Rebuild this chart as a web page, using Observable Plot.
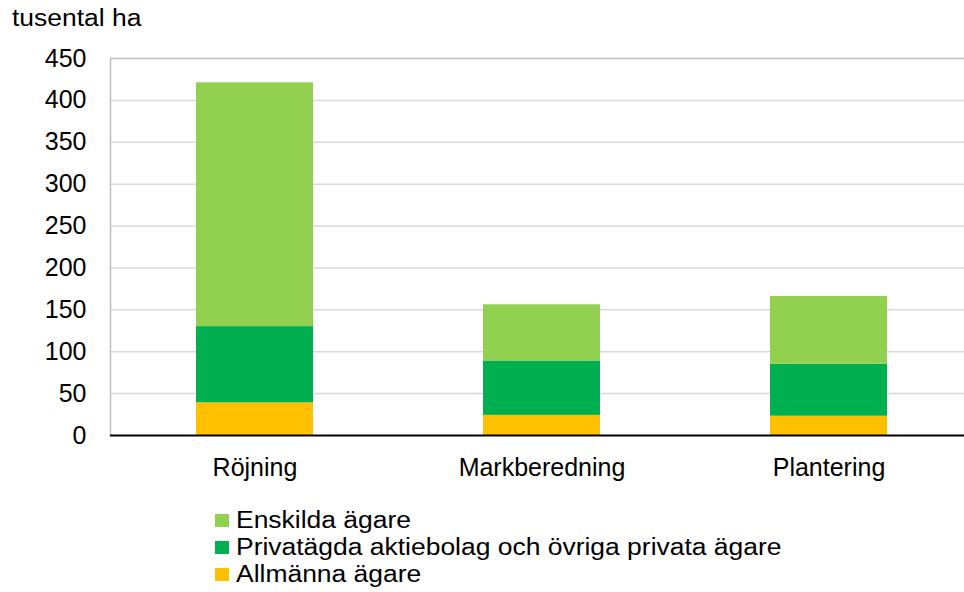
<!DOCTYPE html>
<html>
<head>
<meta charset="utf-8">
<script src="https://cdn.jsdelivr.net/npm/d3@7"></script>
<script src="https://cdn.jsdelivr.net/npm/@observablehq/plot@0.6"></script>
<style>
  html, body { margin: 0; padding: 0; background: #fff; }
  body { font-family: "Liberation Sans", Arial, sans-serif; color: #000; }
  #wrap { position: relative; width: 964px; height: 592px; overflow: hidden; }
  #title { position: absolute; left: 12px; top: 5px; font-size: 23px; line-height: 26px; transform: scaleX(1.15); transform-origin: left center; white-space: nowrap; }
  #chart { position: absolute; left: 0; top: 0; }
  #legend { position: absolute; left: 215px; top: 507px; font-size: 23px; line-height: 27px; }
  .item { display: flex; align-items: center; height: 27px; white-space: nowrap; }
  .sw { width: 14px; height: 13px; margin-right: 7px; flex: none; }
  .lab { transform: scaleX(1.15); transform-origin: left center; }
</style>
</head>
<body>
<div id="wrap">
  <div id="chart"></div>
  <div id="title">tusental ha</div>
  <div id="legend"></div>
</div>
<script>
const categories = ["Röjning", "Markberedning", "Plantering"];
const seriesNames = ["Allmänna ägare", "Privatägda aktiebolag och övriga privata ägare", "Enskilda ägare"];
const allmanna = [39, 24, 23];
const privat = [91, 65, 62];
const enskilda = [291, 67, 81];
const yTicks = [0, 50, 100, 150, 200, 250, 300, 350, 400, 450];
const colors = ["#FFC000", "#00B050", "#92D050"];

const seriesValues = [allmanna, privat, enskilda];
const data = [];
categories.forEach((c, i) => {
  seriesNames.forEach((s, j) => data.push({cat: c, series: s, value: seriesValues[j][i]}));
});

const chart = Plot.plot({
  width: 964,
  height: 500,
  marginLeft: 110,
  marginRight: 0,
  marginTop: 58,
  marginBottom: 65,
  style: {fontFamily: '"Liberation Sans", Arial, sans-serif', fontSize: "25px", color: "#000", background: "transparent"},
  x: {domain: categories, range: [110, 972.5], paddingInner: 0.593, paddingOuter: 0.2965, label: null, tickSize: 0, tickPadding: 23},
  y: {domain: [0, 450], ticks: yTicks, label: null, tickSize: 0, tickPadding: 24},
  color: {domain: seriesNames, range: colors},
  marks: [
    Plot.ruleY(yTicks.filter(d => d > 0 && d < 450), {stroke: "#d9d9d9", strokeWidth: 1.5}),
    Plot.ruleY([450], {stroke: "#bfbfbf", strokeWidth: 1.5}),
    Plot.frame({anchor: "left", stroke: "#bfbfbf", strokeWidth: 1.5}),
    Plot.barY(data, {x: "cat", y: "value", fill: "series", order: seriesNames}),
    Plot.ruleY([0], {stroke: "#000", strokeWidth: 2})
  ]
});
document.getElementById("chart").appendChild(chart);

const legend = document.getElementById("legend");
[2, 1, 0].forEach(j => {
  const item = document.createElement("div");
  item.className = "item";
  const sw = document.createElement("span");
  sw.className = "sw";
  sw.style.background = colors[j];
  const lab = document.createElement("span");
  lab.className = "lab";
  lab.textContent = seriesNames[j];
  item.appendChild(sw);
  item.appendChild(lab);
  legend.appendChild(item);
});
</script>
</body>
</html>
